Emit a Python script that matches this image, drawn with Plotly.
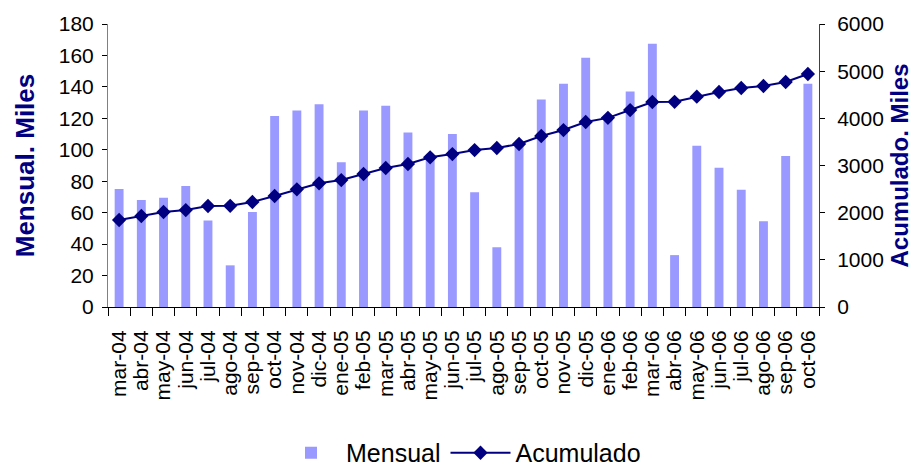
import plotly.graph_objects as go

months = ["mar-04", "abr-04", "may-04", "jun-04", "jul-04", "ago-04", "sep-04", "oct-04",
          "nov-04", "dic-04", "ene-05", "feb-05", "mar-05", "abr-05", "may-05", "jun-05",
          "jul-05", "ago-05", "sep-05", "oct-05", "nov-05", "dic-05", "ene-06", "feb-06",
          "mar-06", "abr-06", "may-06", "jun-06", "jul-06", "ago-06", "sep-06", "oct-06"]

mensual = [75, 68, 69.5, 77, 55, 26.5, 60.5, 121.5,
           125, 129, 92, 125, 128, 111, 96, 110,
           73, 38, 103, 132, 142, 158.5, 120, 137,
           167.5, 33, 102.5, 88.5, 74.5, 54.5, 96, 142]

acumulado = [1844, 1929, 2014, 2056, 2141, 2145, 2226, 2353,
             2495, 2622, 2692, 2820, 2947, 3032, 3173, 3243,
             3328, 3371, 3456, 3625, 3752, 3922, 4010, 4176,
             4346, 4350, 4459, 4558, 4643, 4685, 4770, 4940]

navy = "#000080"
font = "Liberation Sans, Arial, sans-serif"

fig = go.Figure()
fig.add_trace(go.Bar(x=months, y=mensual, name="Mensual", marker_color="#9999FF",
                     marker_line_width=0, width=0.4, yaxis="y"))
fig.add_trace(go.Scatter(x=months, y=acumulado, name="Acumulado", mode="lines+markers",
                         line=dict(color=navy, width=2),
                         marker=dict(symbol="diamond", size=11, color=navy),
                         yaxis="y2"))

fig.update_layout(
    width=922, height=467,
    margin=dict(l=108, r=103, t=24, b=160),
    paper_bgcolor="white", plot_bgcolor="white",
    font=dict(family=font, size=21, color="black"),
    showlegend=True,
    legend=dict(orientation="h", xref="container", yref="container",
                x=0.5, xanchor="center", y=0.03, yanchor="middle",
                font=dict(size=25), itemwidth=60, tracegroupgap=0),
    xaxis=dict(
        type="category", tickmode="array", tickvals=months, ticktext=months,
        tickangle=-90, showline=True, linecolor="black", linewidth=1,
        ticks="outside", ticklen=8, tickcolor="black", tickson="boundaries",
        showgrid=False, tickfont=dict(size=21), ticklabelstandoff=14, automargin=False,
        range=[-0.5, 31.5],
    ),
    yaxis=dict(
        range=[0, 180], dtick=20, showline=True, linecolor="#808080", linewidth=1,
        ticks="outside", ticklen=5, tickcolor="black", showgrid=False, zeroline=False,
        tickfont=dict(size=21), automargin=False, ticklabelstandoff=4,
        title=dict(text="<b>Mensual. Miles</b>", font=dict(size=26, color=navy), standoff=16),
    ),
    yaxis2=dict(
        range=[0, 6000], dtick=1000, overlaying="y", side="right", showline=True,
        linecolor="#404040", linewidth=1, ticks="outside", ticklen=5, tickcolor="black",
        showgrid=False, zeroline=False, tickfont=dict(size=21), automargin=False,
        ticklabelstandoff=8,
        title=dict(text="<b>Acumulado. Miles</b>", font=dict(size=24, color=navy), standoff=8),
    ),
)

fig.write_html("out.html", config={"displayModeBar": False},
               post_script="document.body.style.margin='0';document.body.style.overflow='hidden';")
